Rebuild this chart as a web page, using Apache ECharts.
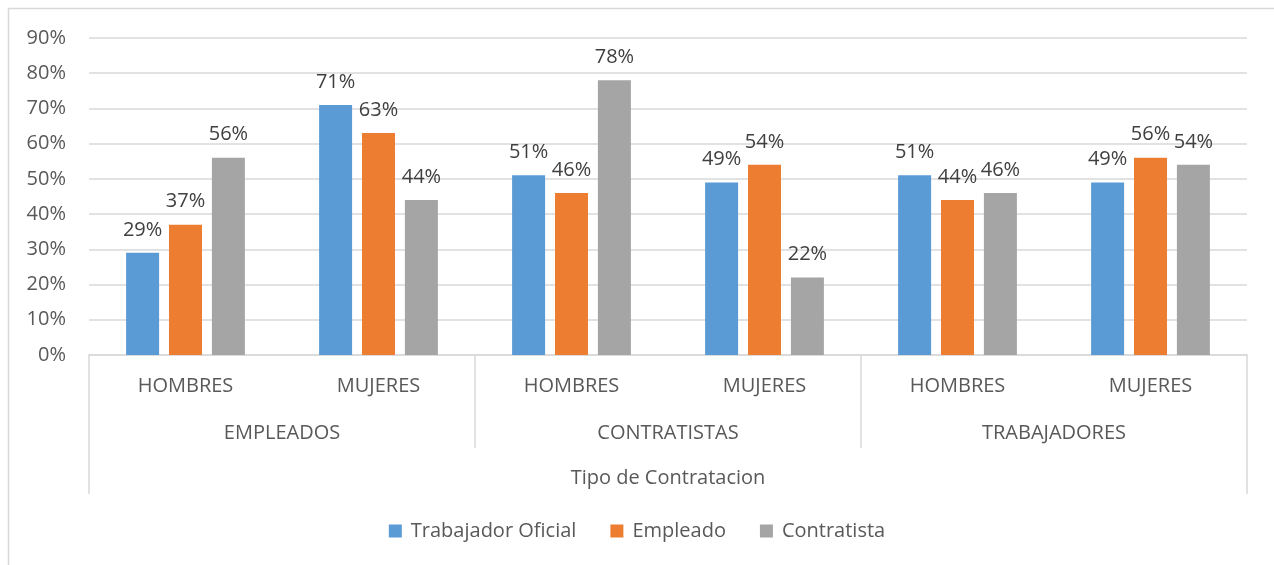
<!DOCTYPE html>
<html>
<head>
<meta charset="utf-8">
<script src="https://cdn.jsdelivr.net/npm/echarts@6/dist/echarts.min.js"></script>
<style>
  html, body { margin: 0; padding: 0; background: #fff; }
  #main { width: 1274px; height: 565px; }
</style>
</head>
<body>
<div id="main"></div>
<script>
// datos
var categorias = ['HOMBRES', 'MUJERES', 'HOMBRES', 'MUJERES', 'HOMBRES', 'MUJERES'];
var grupos = ['EMPLEADOS', 'CONTRATISTAS', 'TRABAJADORES'];
var tituloEje = ['Tipo de Contratacion'];
var trabajadorOficial = [0.29, 0.71, 0.51, 0.49, 0.51, 0.49];
var empleado = [0.37, 0.63, 0.46, 0.54, 0.44, 0.56];
var contratista = [0.56, 0.44, 0.78, 0.22, 0.46, 0.54];

var fuente = '"Open Sans", "Liberation Sans", sans-serif';
var gris = '#d9d9d9';

var myChart = echarts.init(document.getElementById('main'));

function serie(nombre, datos, color) {
  return {
    name: nombre,
    type: 'bar',
    xAxisIndex: 0,
    data: datos,
    barWidth: 33,
    barGap: '30%',
    itemStyle: { color: color },
    label: {
      show: true,
      position: 'top',
      distance: 13,
      color: '#404040',
      fontFamily: fuente,
      fontSize: 20,
      formatter: function (p) { return Math.round(p.value * 100) + '%'; }
    }
  };
}

var option = {
  animation: false,
  backgroundColor: '#fff',
  graphic: [{
    type: 'rect',
    shape: { x: 8.5, y: 8.5, width: 1300, height: 600 },
    style: { fill: 'none', stroke: gris, lineWidth: 1.5 },
    silent: true
  }],
  grid: { left: 89, right: 27, top: 38, bottom: 210 },
  legend: {
    bottom: 19,
    left: 'center',
    itemWidth: 13,
    itemHeight: 13,
    itemGap: 34,
    icon: 'rect',
    textStyle: { color: '#595959', fontFamily: fuente, fontSize: 20, padding: [0, 0, 0, 4] },
    data: ['Trabajador Oficial', 'Empleado', 'Contratista']
  },
  xAxis: [
    {
      type: 'category',
      data: categorias,
      axisLine: { lineStyle: { color: gris, width: 1.5 } },
      axisTick: { show: false },
      axisLabel: { color: '#595959', fontFamily: fuente, fontSize: 20, margin: 21, interval: 0 }
    },
    {
      type: 'category',
      data: grupos,
      position: 'bottom',
      axisLine: { show: false },
      axisTick: { show: true, length: 93, lineStyle: { color: gris, width: 1.5 } },
      axisLabel: { color: '#595959', fontFamily: fuente, fontSize: 20, margin: 68, interval: 0 },
      splitLine: { show: false }
    },
    {
      type: 'category',
      data: tituloEje,
      position: 'bottom',
      axisLine: { show: false },
      axisTick: { show: true, length: 139, lineStyle: { color: gris, width: 1.5 } },
      axisLabel: { color: '#595959', fontFamily: fuente, fontSize: 20, margin: 113 },
      splitLine: { show: false }
    }
  ],
  yAxis: {
    type: 'value',
    min: 0,
    max: 0.9,
    interval: 0.1,
    axisLine: { show: false },
    axisTick: { show: false },
    splitLine: { lineStyle: { color: gris, width: 1.5 } },
    axisLabel: {
      color: '#595959',
      fontFamily: fuente,
      fontSize: 20,
      margin: 23,
      formatter: function (v) { return Math.round(v * 100) + '%'; }
    }
  },
  series: [
    serie('Trabajador Oficial', trabajadorOficial, '#5b9bd5'),
    serie('Empleado', empleado, '#ed7d31'),
    serie('Contratista', contratista, '#a5a5a5')
  ]
};

myChart.setOption(option);
</script>
</body>
</html>
